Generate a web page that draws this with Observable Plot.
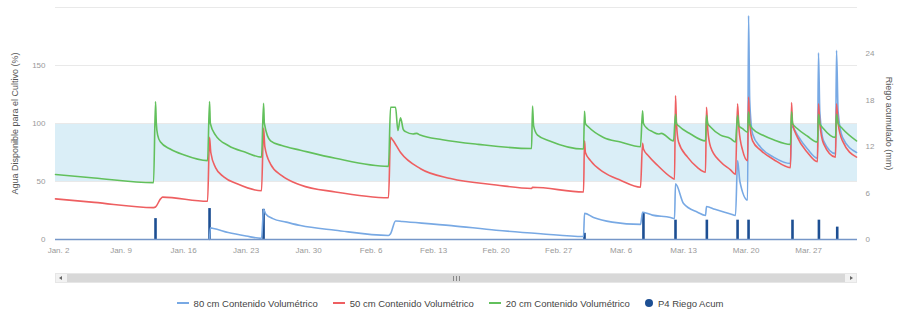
<!DOCTYPE html>
<html>
<head>
<meta charset="utf-8">
<script src="https://cdn.jsdelivr.net/npm/d3@7"></script>
<script src="https://cdn.jsdelivr.net/npm/@observablehq/plot@0.6"></script>
<style>
  html, body { margin: 0; padding: 0; background: #fff; }
  #wrap { position: relative; width: 900px; height: 314px; font-family: "Liberation Sans", Arial, sans-serif; overflow: hidden; }
  #chart { position: absolute; left: 0; top: 0; }
  #scroll { position: absolute; left: 55px; top: 273px; width: 802px; height: 10px; background: #f2f2f2; border: 1px solid #e6e6e6; box-sizing: border-box; }
  #thumb { position: absolute; left: 11px; right: 11px; top: 0; bottom: 0; background: #d8d8d8; }
  #grip { position: absolute; left: 50%; top: 2px; width: 7px; height: 5px; margin-left: -3px;
          background: repeating-linear-gradient(90deg, #888 0 1px, transparent 1px 3px); }
  .arr { position: absolute; top: 2px; width: 0; height: 0; border-top: 2.5px solid transparent; border-bottom: 2.5px solid transparent; }
  #arrL { left: 3px; border-right: 3px solid #666; }
  #arrR { right: 3px; border-left: 3px solid #666; }
  #legend { position: absolute; left: 0; width: 900px; top: 296px; height: 14px; display: flex; justify-content: center; gap: 15px; font-size: 9.5px; color: #444; }
  .item { display: flex; align-items: center; gap: 5px; white-space: nowrap; }
  .sym-line { width: 12px; height: 2px; }
  .sym-dot { width: 8px; height: 8px; border-radius: 50%; }
</style>
</head>
<body>
<div id="wrap">
  <div id="chart"></div>
  <div id="scroll"><div id="thumb"><div id="grip"></div></div><div id="arrL" class="arr"></div><div id="arrR" class="arr"></div></div>
  <div id="legend"></div>
</div>
<script>
// ---- data (time = days since Jan 1, fractional) ----
const seriesNames = ["80 cm Contenido Volumétrico", "50 cm Contenido Volumétrico", "20 cm Contenido Volumétrico", "P4 Riego Acum"];
const seriesColors = ["#78a9e4", "#ee5f61", "#62c05c", "#1d4f93"];

const xTickDays = [1, 8, 15, 22, 29, 36, 43, 50, 57, 64, 71, 78, 85];
const xTickLabels = ["Jan. 2", "Jan. 9", "Jan. 16", "Jan. 23", "Jan. 30", "Feb. 6", "Feb. 13", "Feb. 20", "Feb. 27", "Mar. 6", "Mar. 13", "Mar. 20", "Mar. 27"];
const xRangeDays = [0.66, 90.47];
const leftTicks = [0, 50, 100, 150];
const leftGrid = [0, 50, 100, 150, 200];
const leftMax = 200;
const rightTicks = [0, 6, 12, 18, 24];
const rightMax = 30;
const band = [50, 100];

const green20 = [
  [0.66,56],[5,53],[11.64,49],[11.86,119],[11.95,100],[12.1,90],[12.42,84],[13.5,78],[15,73],[17.69,68],
  [17.91,119],[18.0,100],[18.58,90],[20,81],[22,75],[23.73,71],
  [23.96,117.5],[24.05,100],[24.74,85],[26,81],[28.1,77],[32,70],[37.95,63],
  [38.18,114],[38.74,114],[39.0,94],[39.3,105],[39.6,95],[39.86,93],[40.7,91],[41.1,91.5],[41.5,90],[44,86],[48,82],[53.97,78.4],
  [54.08,115],[54.2,98],[54.64,90],[56,85],[59.79,78],
  [59.9,110.6],[60.0,100],[60.35,97],[62.03,88],[63.93,84],[66.17,80],
  [66.4,111],[66.5,100],[66.95,95.5],[67.5,93],[68.19,91],[68.5,91.5],[69.87,85],
  [70.09,108],[70.2,100],[70.43,98],[71.77,91],[73.45,85],
  [73.56,107],[73.7,100],[74.01,97],[75.13,90],[76.25,87],[76.81,84],
  [77.04,107],[77.2,98],[77.6,95.5],[78.16,92.5],
  [78.27,110],[78.4,100],[78.72,95.5],[79.95,89.7],[81.07,86],[82.97,82],
  [83.08,110],[83.2,100],[83.75,95.5],[84.87,89],[85.99,84],
  [86.1,108],[86.25,100],[86.67,95.5],[88.01,88],
  [88.12,108],[88.3,100],[88.79,95.5],[90.36,85]
];

const red50 = [
  [0.66,35],[5,32],[11.64,27.5],[11.86,28],[12.42,35],[12.65,36.5],[17.69,33],
  [17.91,88],[18.05,75],[18.58,62],[19.5,54],[21,48],[23.73,42],
  [23.96,96],[24.1,80],[24.74,65],[26,55],[28.1,47],[32,41],[37.95,36],
  [38.18,88],[38.4,86],[39.3,75],[41.54,61],[44.9,52.6],[50,47],[53.97,44],[54.08,45],[59.79,41],
  [59.9,85],[60.0,75],[60.57,68],[62.03,58],[63.93,51],[66.17,45],
  [66.4,83],[66.5,78],[67.07,72],[68.07,64],[69.53,54],[69.98,52],
  [70.09,124],[70.2,100],[70.43,84],[71.44,71],[72.56,62],[73.45,58],
  [73.56,114],[73.7,95],[74.01,80],[75.13,67],[76.25,60],[76.81,56],
  [77.04,117],[77.2,95],[77.6,77],[78.16,68],
  [78.27,122.7],[78.4,100],[78.72,85],[79.61,77],[81.07,69],[82.97,62],
  [83.08,118],[83.2,100],[83.75,88],[84.87,75],[85.99,67],
  [86.1,117],[86.25,100],[86.67,82.6],[88.01,71],
  [88.12,117],[88.3,100],[88.79,85],[90.36,71]
];

const blue80 = [
  [17.91,0],[18.0,10],[18.36,9.5],[20,6],[22,3],[23.73,1],
  [23.96,26],[24.2,22],[25,18],[26.5,15],[28.1,12],[32,8],[37.95,3.5],
  [38.18,5],[38.74,16],[39.5,15.5],[45,12],[50,8],[55,5],[59.79,2.6],
  [59.9,22.5],[60.91,19],[63,15],[66.17,13],
  [66.4,23.5],[67.5,21],[69.53,19],[69.98,18],
  [70.09,48],[70.99,31],[72.56,23.5],[73.45,20.7],
  [73.56,28.4],[74.5,26],[76.25,22],[76.81,20.7],
  [77.04,68],[77.3,50],[78.16,34],
  [78.27,193],[78.4,120],[78.72,91],[79.61,79.6],[81.07,71],[82.97,65.5],
  [83.08,98],[83.3,96],[83.75,90],[84.87,78],[85.99,70],
  [86.1,161],[86.25,110],[86.67,85],[88.01,74],
  [88.12,163],[88.3,110],[88.79,88],[90.36,75]
];

const riegoMm = [
  [11.86,2.7],[17.91,4.0],[23.96,3.9],[59.9,0.8],[66.5,3.5],[70.09,2.5],[73.6,2.5],
  [77.04,2.5],[78.27,2.5],[83.19,2.5],[86.15,2.5],[88.2,1.6]
];

const titleLeft = "Agua Disponible para el Cultivo (%)";
const titleRight = "Riego acumulado (mm)";

// ---- build ----
const START = Date.UTC(2019, 0, 1);
const toDate = d => new Date(START + d * 864e5);
const toRows = arr => arr.map(([d, v]) => ({t: toDate(d), v}));
const k = leftMax / rightMax;
const xTicks = xTickDays.map(toDate);
const labelOf = new Map(xTicks.map((t, i) => [+t, xTickLabels[i]]));
const font = "Liberation Sans, Arial, sans-serif";

const chart = Plot.plot({
  width: 900,
  height: 262,
  marginLeft: 55,
  marginRight: 43,
  marginTop: 7,
  marginBottom: 23,
  style: {fontFamily: font, fontSize: "8px", color: "#999", background: "#fff"},
  x: {type: "utc", domain: xRangeDays.map(toDate)},
  y: {domain: [0, leftMax]},
  marks: [
    Plot.rect([band], {x1: () => toDate(xRangeDays[0]), x2: () => toDate(xRangeDays[1]), y1: d => d[0], y2: d => d[1], fill: "#daeef7"}),
    Plot.ruleY(leftGrid.slice(1), {stroke: "#e9e9e9", strokeWidth: 1}),
    Plot.axisX({ticks: xTicks, tickFormat: d => labelOf.get(+d), tickSize: 0, tickPadding: 8, label: null, fill: "#999"}),
    Plot.axisY({ticks: leftTicks, tickSize: 0, tickPadding: 10, label: null, fill: "#999"}),
    Plot.axisY({anchor: "right", ticks: rightTicks.map(v => v * k), tickFormat: d => String(Math.round(d / k)), tickSize: 0, tickPadding: 8, label: null, fill: "#999"}),
    Plot.text([titleLeft], {frameAnchor: "left", text: d => d, rotate: -90, dx: -40, textAnchor: "middle", fill: "#555", fontSize: 9}),
    Plot.text([titleRight], {frameAnchor: "right", text: d => d, rotate: 90, dx: 31, textAnchor: "middle", fill: "#555", fontSize: 9}),
    Plot.ruleX(toRows(riegoMm), {x: "t", y1: 0, y2: d => d.v * k, stroke: seriesColors[3], strokeWidth: 2.6}),
    Plot.line(toRows(blue80), {x: "t", y: "v", stroke: seriesColors[0], strokeWidth: 1.6, curve: "monotone-x"}),
    Plot.line(toRows(red50), {x: "t", y: "v", stroke: seriesColors[1], strokeWidth: 1.6, curve: "monotone-x"}),
    Plot.line(toRows(green20), {x: "t", y: "v", stroke: seriesColors[2], strokeWidth: 1.6, curve: "monotone-x"}),
    Plot.ruleY([0], {stroke: "#7596c8", strokeWidth: 1.5})
  ]
});
document.getElementById("chart").appendChild(chart);

const legend = document.getElementById("legend");
seriesNames.forEach((name, i) => {
  const item = document.createElement("div");
  item.className = "item";
  const sym = document.createElement("div");
  sym.className = i === 3 ? "sym-dot" : "sym-line";
  sym.style.background = seriesColors[i];
  const txt = document.createElement("span");
  txt.textContent = name;
  item.appendChild(sym);
  item.appendChild(txt);
  legend.appendChild(item);
});
</script>
</body>
</html>
